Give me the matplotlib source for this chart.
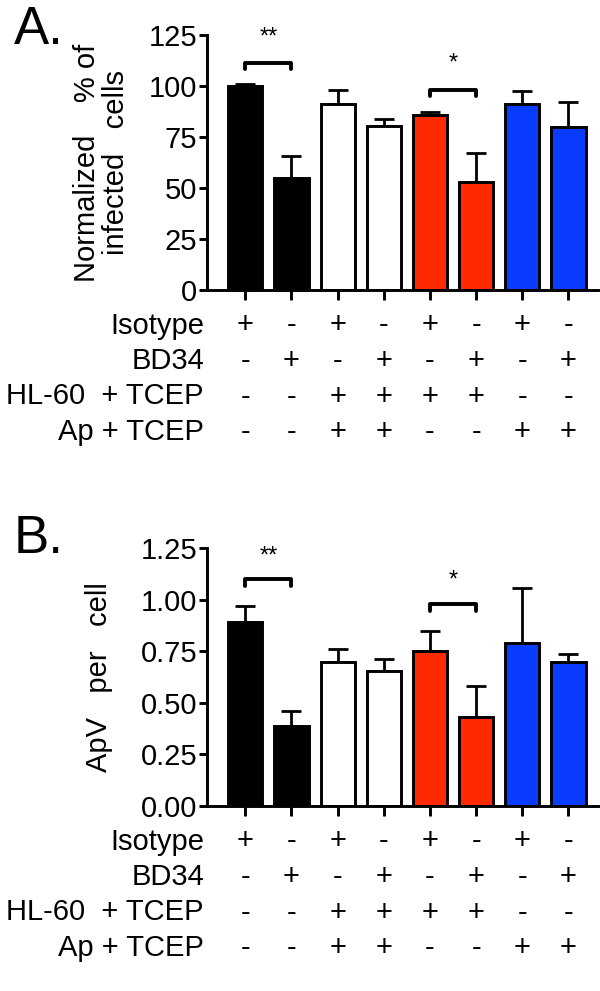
import numpy as np
import matplotlib
matplotlib.use('Agg')
from matplotlib import pyplot as plt

plt.rcParams['font.family'] = ['Liberation Sans', 'DejaVu Sans']

# bar values
pct_mean = [100, 55, 91, 80.5, 86, 53, 91, 80]
pct_err = [1, 10.5, 7, 3.5, 1.5, 14, 6.5, 12]
apv_mean = [0.89, 0.39, 0.70, 0.655, 0.75, 0.43, 0.79, 0.70]
apv_err = [0.08, 0.07, 0.06, 0.055, 0.10, 0.15, 0.265, 0.035]
colors = ['black', 'black', 'white', 'white', '#ff2a00', '#ff2a00', '#0a3cff', '#0a3cff']

row_names = ['Isotype', 'BD34', 'HL-60  + TCEP', 'Ap + TCEP']
isotype = ['+', '-', '+', '-', '+', '-', '+', '-']
bd34 = ['-', '+', '-', '+', '-', '+', '-', '+']
hl60 = ['-', '-', '+', '+', '+', '+', '-', '-']
ap = ['-', '-', '+', '+', '-', '-', '+', '+']
signs = [isotype, bd34, hl60, ap]

# significance brackets: (bar1, bar2, height, drop, text, text height)
brackets_a = [(0, 1, 111.5, 3, '**', 124), (4, 5, 98, 3, '*', 111)]
brackets_b = [(0, 1, 1.10, 0.035, '**', 1.21), (4, 5, 0.98, 0.035, '*', 1.09)]

W, H = 600, 991
fig = plt.figure(figsize=(W / 100, H / 100), dpi=100)

fs = 21
lw = 2.1
x = np.arange(8)


def panel(rect, mean, err, ticks, ticklabels, ylabel, brackets, letter, letter_y, ylabel_x):
    ax = fig.add_axes(rect)
    ax.errorbar(x, mean, yerr=[np.zeros(8), err], fmt='none', ecolor='black',
                elinewidth=2, capsize=7, capthick=2, zorder=1)
    ax.bar(x, mean, width=0.74, color=colors, edgecolor='black', linewidth=lw, zorder=2)
    ax.set_xlim(-0.83, 7.64)
    ax.set_ylim(0, ticks[-1])
    ax.set_yticks(ticks)
    ax.set_yticklabels(ticklabels, fontsize=fs)
    ax.set_xticks(x)
    ax.set_xticklabels([])
    ax.spines['top'].set_visible(False)
    ax.spines['right'].set_visible(False)
    ax.spines['left'].set_linewidth(lw)
    ax.spines['bottom'].set_linewidth(lw)
    ax.tick_params(axis='y', length=6, width=lw, pad=1)
    ax.tick_params(axis='x', length=7, width=lw)
    for b1, b2, h, d, txt, th in brackets:
        ax.plot([b1, b1, b2, b2], [h - d, h, h, h - d], color='black', lw=2.8,
                solid_joinstyle='round', solid_capstyle='round', clip_on=False)
        ax.text((b1 + b2) / 2, th, txt, ha='center', va='center', fontsize=17)
    for k, row in enumerate(signs):
        off = -35.5 * (k + 1)
        ax.annotate(row_names[k], xy=(0, 0), xycoords='axes fraction',
                    xytext=(-3, off), textcoords='offset pixels',
                    ha='right', va='center', fontsize=fs)
        for i, s in enumerate(row):
            ax.annotate(s, xy=(i, 0), xycoords=('data', 'axes fraction'),
                        xytext=(0, off), textcoords='offset pixels',
                        ha='center', va='center', fontsize=fs)
    ax.text(ylabel_x, 0.5, ylabel, transform=ax.transAxes, rotation=90,
            ha='center', va='center', fontsize=fs, linespacing=1.05)
    fig.text(14 / W, letter_y, letter, fontsize=38, ha='left', va='top')
    return ax


axA = panel([207 / W, 1 - 290 / H, 391 / W, 255 / H], pct_mean, pct_err,
            [0, 25, 50, 75, 100, 125], ['0', '25', '50', '75', '100', '125'],
            'Normalized    % of\ninfected   cells', brackets_a, 'A.', 1 - 5 / H, -0.27)
axB = panel([207 / W, 1 - 806 / H, 391 / W, 258 / H], apv_mean, apv_err,
            [0, 0.25, 0.5, 0.75, 1.0, 1.25], ['0.00', '0.25', '0.50', '0.75', '1.00', '1.25'],
            'ApV   per   cell', brackets_b, 'B.', 1 - 514 / H, -0.275)

fig.savefig('out.png', dpi=100)
